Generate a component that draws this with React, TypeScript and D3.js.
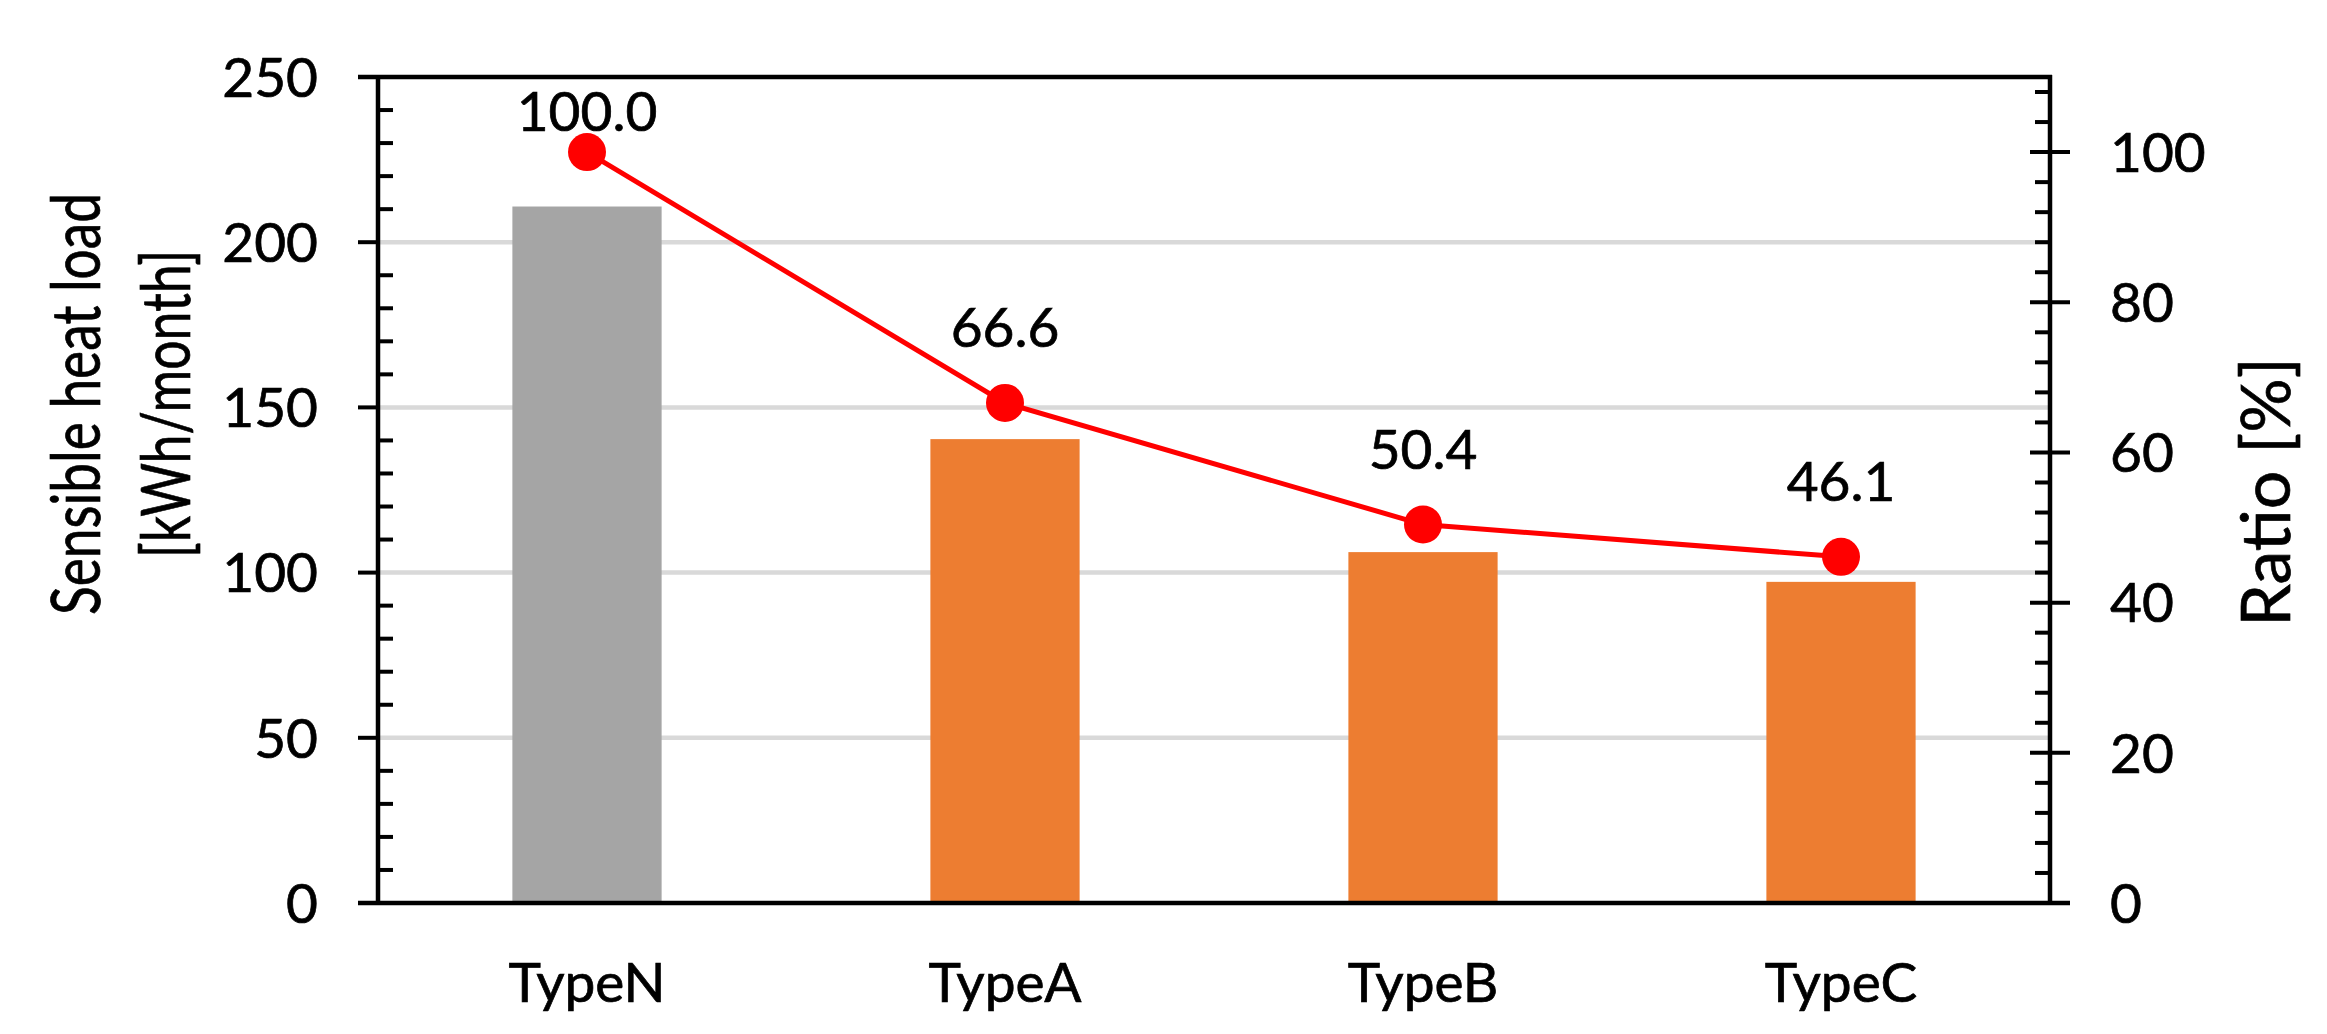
import React from "react";
import * as d3 from "d3";

const categories = ["TypeN", "TypeA", "TypeB", "TypeC"];
const heatLoad = [210.8, 140.4, 106.2, 97.2];
const ratio = [100.0, 66.6, 50.4, 46.1];
const ratioLabels = ["100.0", "66.6", "50.4", "46.1"];
const barColors = ["#A5A5A5", "#ED7D31", "#ED7D31", "#ED7D31"];
const leftTicks = [0, 50, 100, 150, 200, 250];
const rightTicks = [0, 20, 40, 60, 80, 100];

const W = 2327;
const H = 1034;
const L = 378;
const R = 2050;
const T = 77;
const B = 903;
const FONT = "Lato, 'Open Sans', sans-serif";
const TS = { stroke: "#000", strokeWidth: 0.7 };

export default function App() {
  const x = d3.scaleBand<string>().domain(categories).range([L, R]).paddingInner(0.643).paddingOuter(0.3215);
  const yL = d3.scaleLinear().domain([0, 250]).range([B, T]);
  const yR = d3.scaleLinear().domain([0, 110]).range([B, T]);
  const cx = (c: string) => (x(c) as number) + x.bandwidth() / 2;

  const leftMinor = d3.range(0, 251, 10).filter((v) => v % 50 !== 0);
  const rightMinor = d3.range(0, 111, 4).filter((v) => v % 20 !== 0);
  const grid = [50, 100, 150, 200];

  const line = d3
    .line<number>()
    .x((_, i) => cx(categories[i]))
    .y((d) => yR(d));

  // labels sit above points but are kept inside the plot area
  const labelY = (r: number) => Math.max(yR(r) - 56, T + 54);

  return (
    <svg width={W} height={H} style={{ position: "absolute", left: 0, top: 0, display: "block" }} fontFamily={FONT}>
      <rect width={W} height={H} fill="#fff" />
      {grid.map((g) => (
        <line key={g} x1={L} x2={R} y1={yL(g)} y2={yL(g)} stroke="#D9D9D9" strokeWidth={4.5} />
      ))}
      {categories.map((c, i) => (
        <rect key={c} x={x(c)} y={yL(heatLoad[i])} width={x.bandwidth()} height={B - yL(heatLoad[i])} fill={barColors[i]} />
      ))}
      {/* axes */}
      <line x1={L} x2={L} y1={T - 2} y2={B + 2} stroke="#000" strokeWidth={4.5} />
      <line x1={R} x2={R} y1={T - 2} y2={B + 2} stroke="#000" strokeWidth={4.5} />
      <line x1={358} x2={R + 2} y1={T} y2={T} stroke="#000" strokeWidth={4.5} />
      <line x1={358} x2={2070} y1={B} y2={B} stroke="#000" strokeWidth={4.5} />
      {leftTicks.map((t) => (
        <g key={"lt" + t}>
          <line x1={358} x2={L} y1={yL(t)} y2={yL(t)} stroke="#000" strokeWidth={4} />
          <text x={318} y={yL(t)} dy="0.36em" textAnchor="end" fontSize={55} {...TS}>
            {t}
          </text>
        </g>
      ))}
      {leftMinor.map((t) => (
        <line key={"lm" + t} x1={L} x2={393} y1={yL(t)} y2={yL(t)} stroke="#000" strokeWidth={4} />
      ))}
      {rightTicks.map((t) => (
        <g key={"rt" + t}>
          <line x1={2030} x2={2070} y1={yR(t)} y2={yR(t)} stroke="#000" strokeWidth={4} />
          <text x={2110} y={yR(t)} dy="0.36em" textAnchor="start" fontSize={55} {...TS}>
            {t}
          </text>
        </g>
      ))}
      {rightMinor.map((t) => (
        <line key={"rm" + t} x1={2035} x2={R} y1={yR(t)} y2={yR(t)} stroke="#000" strokeWidth={4} />
      ))}
      {categories.map((c) => (
        <text key={"xl" + c} x={cx(c)} y={1002} textAnchor="middle" fontSize={55} {...TS}>
          {c}
        </text>
      ))}
      {/* line series */}
      <path d={line(ratio) as string} fill="none" stroke="#FF0000" strokeWidth={5} />
      {ratio.map((r, i) => (
        <g key={"p" + i}>
          <circle cx={cx(categories[i])} cy={yR(r)} r={19} fill="#FF0000" />
          <text x={cx(categories[i])} y={labelY(r)} textAnchor="middle" fontSize={55} {...TS}>
            {ratioLabels[i]}
          </text>
        </g>
      ))}
      {/* axis titles */}
      <text transform="translate(100,404) rotate(-90)" textAnchor="middle" fontSize={68} textLength={422} lengthAdjust="spacingAndGlyphs" {...TS}>
        Sensible heat load
      </text>
      <text transform="translate(190,404) rotate(-90)" textAnchor="middle" fontSize={68} textLength={308} lengthAdjust="spacingAndGlyphs" {...TS}>
        [kWh/month]
      </text>
      <text transform="translate(2290,492) rotate(-90)" textAnchor="middle" fontSize={68} textLength={269} lengthAdjust="spacingAndGlyphs" {...TS}>
        Ratio [%]
      </text>
    </svg>
  );
}
